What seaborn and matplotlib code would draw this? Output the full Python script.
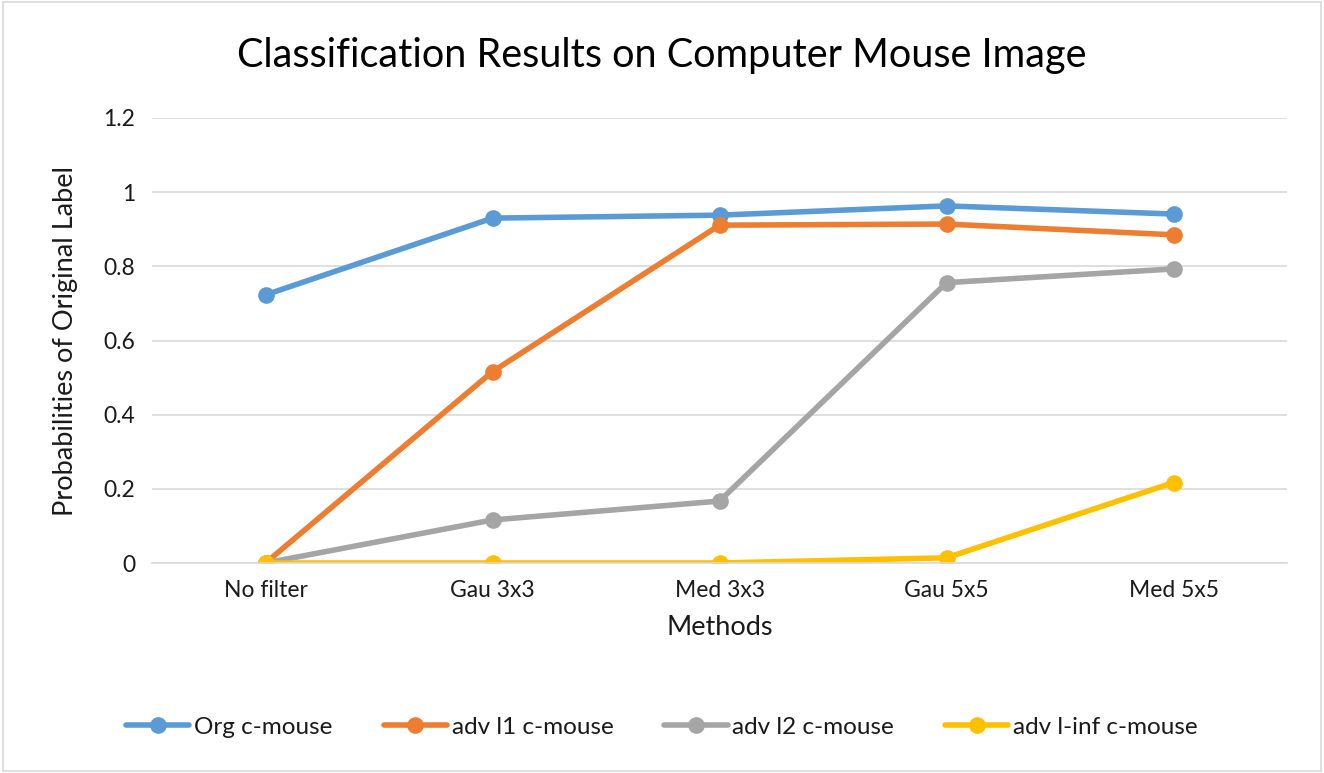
import pandas as pd
import numpy as np
import matplotlib.pyplot as plt
import seaborn as sns

# Values
methods = ["No filter", "Gau 3x3", "Med 3x3", "Gau 5x5", "Med 5x5"]
org = [0.723, 0.930, 0.938, 0.963, 0.941]
adv_l1 = [0.0, 0.516, 0.911, 0.914, 0.885]
adv_l2 = [0.0, 0.116, 0.167, 0.756, 0.793]
adv_linf = [0.0, 0.0, 0.0, 0.014, 0.217]
series_names = ["Org c-mouse", "adv l1 c-mouse", "adv l2 c-mouse", "adv l-inf c-mouse"]
yticks = [0, 0.2, 0.4, 0.6, 0.8, 1, 1.2]
ytick_labels = ["0", "0.2", "0.4", "0.6", "0.8", "1", "1.2"]

colors = ["#5B9BD5", "#ED7D31", "#A5A5A5", "#FFC000"]

df = pd.DataFrame({
    "method": methods * 4,
    "prob": org + adv_l1 + adv_l2 + adv_linf,
    "series": [s for s in series_names for _ in methods],
})
df["x"] = df["method"].map({m: i for i, m in enumerate(methods)})

sns.set_style("white")
plt.rcParams['font.family'] = ['Lato', 'DejaVu Sans']

fig = plt.figure(figsize=(13.24, 7.73), dpi=100)
ax = fig.add_axes([152 / 1324, 1 - 563 / 773, (1287 - 152) / 1324, (563 - 118) / 773])

sns.lineplot(data=df, x="x", y="prob", hue="series", hue_order=series_names,
             palette=colors, marker="o", markersize=12, markeredgewidth=0,
             linewidth=4, ax=ax, sort=False, legend=False)

text_col = "#1a1a1a"
ax.set_xlim(-0.5, 4.5)
ax.set_ylim(0, 1.2)
ax.set_xticks(range(len(methods)))
ax.set_xticklabels(methods, fontsize=16.5, color=text_col)
ax.set_yticks(yticks)
ax.set_yticklabels(ytick_labels, fontsize=16.5, color=text_col)
ax.yaxis.grid(True, color="#D9D9D9", linewidth=1.2)
ax.set_axisbelow(True)
for side in ["top", "right", "left"]:
    ax.spines[side].set_visible(False)
ax.spines["bottom"].set_color("#D9D9D9")
ax.spines["bottom"].set_linewidth(1.2)
ax.tick_params(length=0, pad=12)
ax.set_xlabel("Methods", fontsize=19.5, color=text_col, labelpad=10)
ax.set_ylabel("Probabilities of Original Label", fontsize=19.5, color=text_col, labelpad=18)

fig.text(0.5, 1 - 55 / 773, "Classification Results on Computer Mouse Image",
         ha="center", va="center", fontsize=28.5, color="#000000")

handles = [plt.Line2D([], [], color=c, linewidth=4, marker="o", markersize=12,
                      markeredgewidth=0) for c in colors]
fig.legend(handles, series_names, loc="center", bbox_to_anchor=(0.5, 1 - 727 / 773),
           ncol=4, frameon=False, fontsize=17.5, handlelength=2.6, columnspacing=2.1,
           handletextpad=0.2, labelcolor=text_col)

# outer border like the reference
fig.patches.append(plt.Rectangle((0.002, 0.003), 0.996, 0.994, transform=fig.transFigure,
                                 fill=False, edgecolor="#D9D9D9", linewidth=1.2))

fig.savefig("out.png", dpi=100)
